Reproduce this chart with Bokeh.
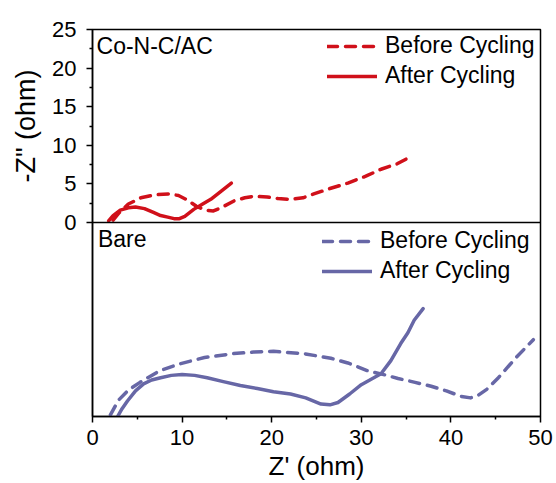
from bokeh.plotting import figure
from bokeh.models import Legend, LegendItem, Label, FixedTicker, Range1d, Span, Title
from bokeh.embed import file_html
from bokeh.resources import INLINE

# ---------------- data ----------------
x_ticks = [0, 10, 20, 30, 40, 50]
y_ticks = [0, 5, 10, 15, 20, 25]

# Co-N-C/AC panel
conc_before_x = [2.3, 3.0, 4.0, 5.4, 7.0, 8.5, 9.6, 10.6, 11.6, 12.6, 13.5, 14.5, 15.8,
                 17.0, 18.0, 19.5, 20.7, 22.1, 23.5, 24.7, 26.5, 28.5, 30.5, 32.2, 34.0, 35.3]
conc_before_y = [0.3, 1.3, 2.4, 3.2, 3.6, 3.7, 3.5, 2.9, 2.1, 1.6, 1.5, 2.0, 2.8,
                 3.2, 3.4, 3.3, 3.1, 3.0, 3.2, 3.7, 4.4, 5.1, 6.0, 6.9, 7.6, 8.4]
conc_after_x = [1.8, 2.3, 3.1, 4.0, 4.8, 5.8, 6.8, 7.6, 8.4, 9.1, 9.7, 10.3, 11.3,
                12.3, 13.2, 14.3, 15.5]
conc_after_y = [0.2, 0.9, 1.6, 1.9, 2.0, 1.8, 1.3, 0.9, 0.7, 0.5, 0.5, 0.8, 1.7,
                2.4, 3.0, 4.0, 5.1]

# Bare panel (no y scale shown in the original; same ohm scale assumed)
bare_before_x = [2.0, 2.9, 4.0, 5.3, 7.5, 9.8, 12.5, 15.7, 18.0, 20.2, 23.6, 26.6, 28.5,
                 30.7, 32.5, 34.1, 36.0, 37.8, 39.5, 41.1, 42.2, 43.0, 44.0, 45.3, 47.2, 49.2]
bare_before_y = [0.2, 2.1, 3.4, 4.4, 5.9, 6.8, 7.6, 8.1, 8.3, 8.4, 8.1, 7.5, 6.9,
                 5.9, 5.4, 4.9, 4.4, 3.9, 3.3, 2.6, 2.4, 2.7, 3.5, 5.0, 7.5, 9.9]
bare_after_x = [2.8, 3.3, 3.9, 4.8, 5.7, 6.6, 7.6, 8.8, 10.0, 11.4, 12.8, 14.6, 16.5,
                18.4, 20.2, 22.1, 23.8, 25.5, 26.5, 27.4, 28.7, 30.0, 31.1, 32.2, 33.3,
                34.4, 35.2, 35.9, 36.9]
bare_after_y = [0.0, 1.0, 2.0, 3.3, 4.2, 4.7, 5.0, 5.3, 5.4, 5.3, 5.0, 4.5, 4.0,
                3.6, 3.2, 2.9, 2.4, 1.6, 1.5, 1.8, 2.9, 4.1, 4.8, 5.5, 7.2,
                9.4, 10.8, 12.4, 13.9]

labels = ["Before Cycling", "After Cycling"]
panel_names = ["Co-N-C/AC", "Bare"]
x_title = "Z' (ohm)"
y_title = '-Z" (ohm)'

# ---------------- style / layout ----------------
FONT = "Liberation Sans"
RED = "#D0101A"
PURPLE = "#6767A6"
LW = 3.5
DASH = "10 8"

W, H = 556, 483
FRAME_TOP, FRAME_BOTTOM, FRAME_LEFT, FRAME_RIGHT = 29, 416, 92, 540
SPLIT = 222  # pixel row of the panel divider
frame_h = FRAME_BOTTOM - FRAME_TOP
top_span = y_ticks[-1] - y_ticks[0]
top_start = y_ticks[-1] - top_span * frame_h / (SPLIT - FRAME_TOP)
bare_end = top_span * frame_h / (FRAME_BOTTOM - SPLIT)

p = figure(width=W, height=H, output_backend="svg", toolbar_location=None,
           x_range=Range1d(x_ticks[0], x_ticks[-1]),
           y_range=Range1d(top_start, y_ticks[-1]),
           min_border_left=FRAME_LEFT, min_border_right=W - FRAME_RIGHT,
           min_border_top=FRAME_TOP, min_border_bottom=H - FRAME_BOTTOM)
p.extra_y_ranges = {"bare": Range1d(0, bare_end)}
p.grid.visible = False
p.outline_line_color = "black"
p.outline_line_width = 1.5
p.background_fill_color = "white"
p.border_fill_color = "white"


def style_axis(ax):
    ax.axis_line_width = 1.5
    ax.axis_line_color = "black"
    ax.major_tick_line_width = 1.5
    ax.minor_tick_line_width = 1.5
    ax.major_tick_out = 6
    ax.major_tick_in = 0
    ax.minor_tick_out = 3
    ax.minor_tick_in = 0
    ax.major_label_text_font = FONT
    ax.major_label_text_font_size = "22px"
    ax.major_label_text_color = "black"
    ax.axis_label_text_font = FONT
    ax.axis_label_text_font_size = "26px"
    ax.axis_label_text_font_style = "normal"
    ax.axis_label_text_color = "black"


def minor_of(ticks):
    return [(a + b) / 2 for a, b in zip(ticks[:-1], ticks[1:])]


p.yaxis.ticker = FixedTicker(ticks=y_ticks, minor_ticks=minor_of(y_ticks))
p.yaxis.major_label_standoff = 10
style_axis(p.yaxis[0])

p.xaxis.ticker = FixedTicker(ticks=x_ticks, minor_ticks=minor_of(x_ticks))
p.xaxis.axis_label = x_title
p.xaxis.axis_label_standoff = 3
p.xaxis.major_label_standoff = 7
style_axis(p.xaxis[0])

# y title for the top panel only (a left-side title, shifted down from the top)
p.add_layout(Title(text=y_title, align="right", offset=40, standoff=14,
                   vertical_align="top",
                   text_font=FONT, text_font_size="27px", text_font_style="normal",
                   text_color="black"), "left")

# divider between the two panels
p.add_layout(Span(location=0, dimension="width", line_color="black", line_width=1.5))

# top panel curves
r1 = p.line(conc_before_x, conc_before_y, line_color=RED, line_width=LW,
            line_dash=DASH, line_cap="round", line_join="round")
r2 = p.line(conc_after_x, conc_after_y, line_color=RED, line_width=LW,
            line_cap="round", line_join="round")

# bottom panel curves
r3 = p.line(bare_before_x, bare_before_y, y_range_name="bare", line_color=PURPLE,
            line_width=LW, line_dash=DASH, line_cap="round", line_join="round")
r4 = p.line(bare_after_x, bare_after_y, y_range_name="bare", line_color=PURPLE,
            line_width=LW, line_cap="round", line_join="round")

common = dict(spacing=3, glyph_width=50, glyph_height=20, label_height=20,
              label_text_font=FONT, label_text_font_size="23px",
              label_text_color="black",
              margin=0, padding=2,
              border_line_alpha=0, background_fill_alpha=0)
# legend positions: (left, bottom) of the legend box in pixels from the frame's lower-left
leg1 = Legend(items=[LegendItem(label=labels[0], renderers=[r1]),
                     LegendItem(label=labels[1], renderers=[r2])],
              location=(233, 325), label_standoff=8, **common)
p.add_layout(leg1)
leg2 = Legend(items=[LegendItem(label=labels[0], renderers=[r3]),
                     LegendItem(label=labels[1], renderers=[r4])],
              location=(228, 130), label_standoff=8, **common)
p.add_layout(leg2)

p.add_layout(Label(x=0.45, y=22.8, text=panel_names[0], text_font=FONT,
                   text_font_size="23px", text_baseline="middle", text_color="black"))
p.add_layout(Label(x=0.6, y=top_span - 2.1, y_range_name="bare", text=panel_names[1],
                   text_font=FONT, text_font_size="23px", text_baseline="middle",
                   text_color="black"))

open("out.html", "w").write(file_html(p, INLINE))
